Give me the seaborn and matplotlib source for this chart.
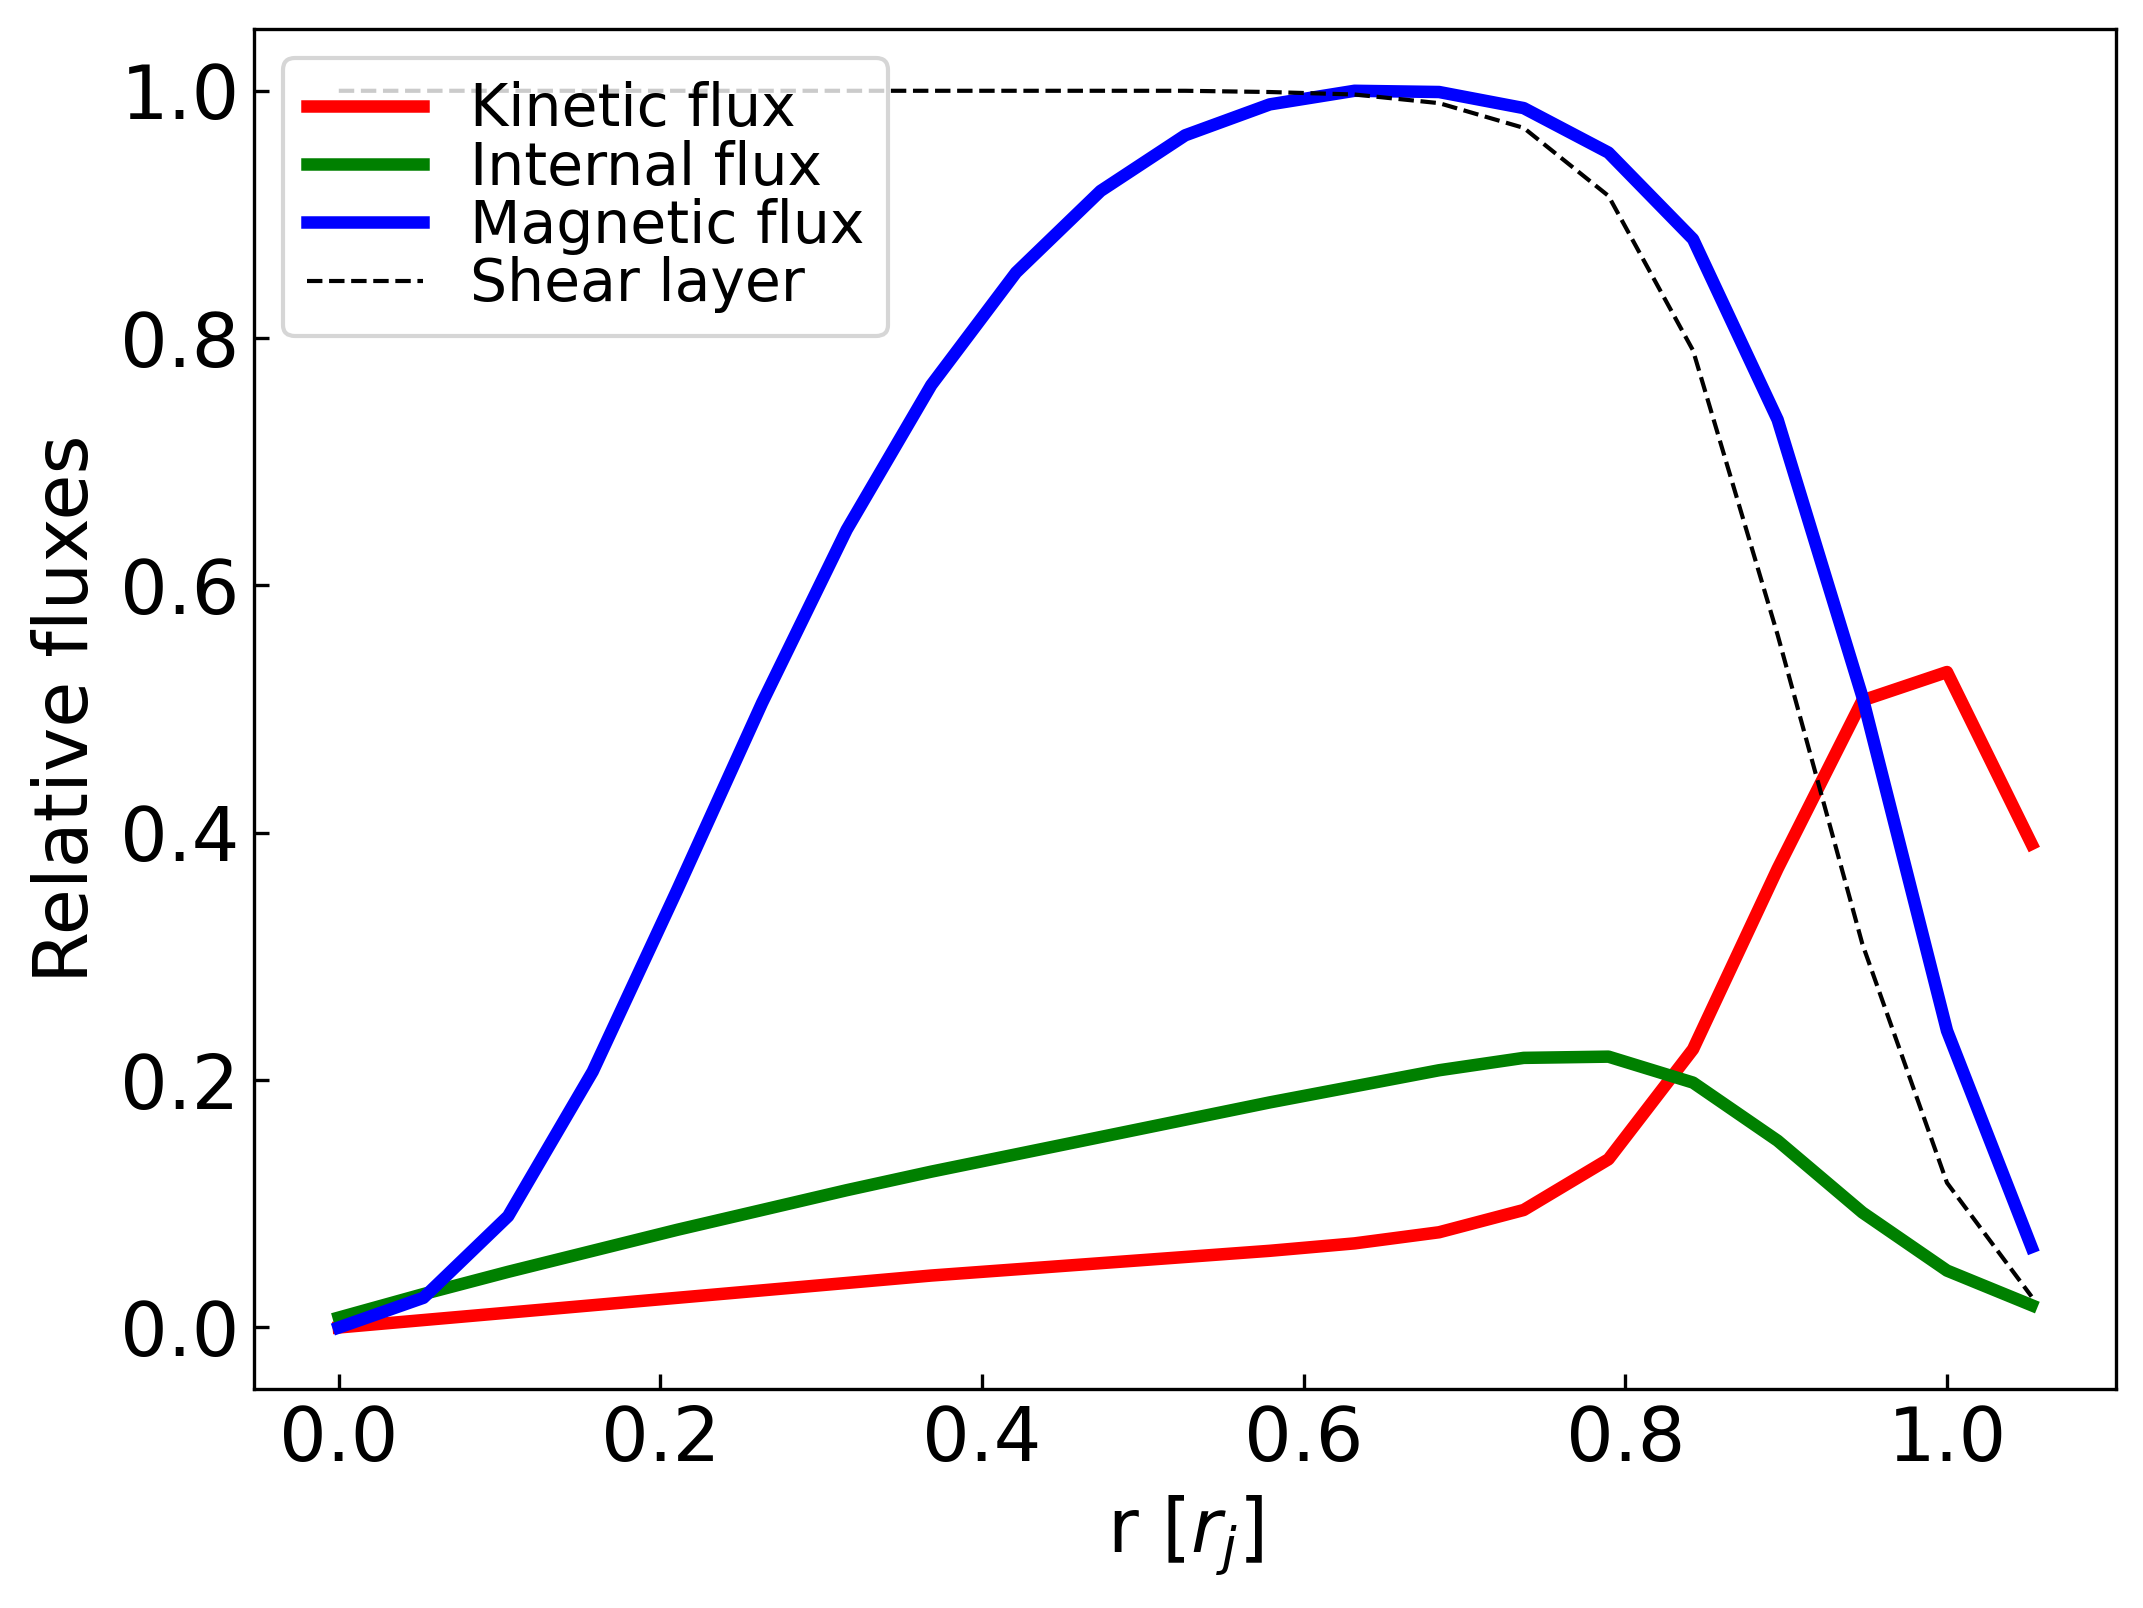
import numpy as np
import pandas as pd
import matplotlib
matplotlib.use("Agg")
import matplotlib.pyplot as plt
import seaborn as sns

r = [0.0, 0.0526, 0.1053, 0.1579, 0.2105, 0.2632, 0.3158, 0.3684, 0.4211, 0.4737,
     0.5263, 0.5789, 0.6316, 0.6842, 0.7368, 0.7895, 0.8421, 0.8947, 0.9474, 1.0, 1.0526]

kinetic = [0.0, 0.006, 0.012, 0.018, 0.024, 0.030, 0.036, 0.042, 0.047, 0.052,
           0.057, 0.062, 0.068, 0.077, 0.095, 0.136, 0.225, 0.371, 0.507, 0.530, 0.391]
internal = [0.008, 0.027, 0.045, 0.062, 0.079, 0.095, 0.111, 0.126, 0.140, 0.154,
            0.168, 0.182, 0.195, 0.208, 0.218, 0.219, 0.198, 0.151, 0.093, 0.046, 0.018]
magnetic = [0.0, 0.024, 0.090, 0.207, 0.354, 0.505, 0.645, 0.762, 0.853, 0.919,
            0.964, 0.989, 1.0, 0.999, 0.986, 0.950, 0.880, 0.734, 0.510, 0.240, 0.065]
shear = [1.0, 1.0, 1.0, 1.0, 1.0, 1.0, 1.0, 1.0, 1.0, 1.0,
         1.0, 0.999, 0.997, 0.990, 0.970, 0.915, 0.790, 0.560, 0.310, 0.117, 0.025]

labels = ["Kinetic flux", "Internal flux", "Magnetic flux", "Shear layer"]

plt.rcParams['xtick.direction'] = 'in'
plt.rcParams['ytick.direction'] = 'in'
plt.rcParams['font.family'] = ['DejaVu Sans']

fig = plt.figure(figsize=(2143/300, 1608/300), dpi=300)
ax = fig.add_axes([0.1186, 0.136, 0.9875 - 0.1186, 0.982 - 0.136])

df = pd.DataFrame({"r": r, "kin": kinetic, "int": internal, "mag": magnetic, "sh": shear})
sns.lineplot(data=df, x="r", y="kin", ax=ax, color="red", lw=3, label=labels[0])
sns.lineplot(data=df, x="r", y="int", ax=ax, color="green", lw=3, label=labels[1])
sns.lineplot(data=df, x="r", y="mag", ax=ax, color="blue", lw=3, label=labels[2])
sns.lineplot(data=df, x="r", y="sh", ax=ax, color="black", lw=1, ls="--", label=labels[3])

ax.set_xlabel(r"r [$r_j$]", fontsize=18)
ax.set_ylabel("Relative fluxes", fontsize=18)
ax.tick_params(labelsize=18)
ax.set_xticks([0.0, 0.2, 0.4, 0.6, 0.8, 1.0])
ax.set_yticks([0.0, 0.2, 0.4, 0.6, 0.8, 1.0])
ax.legend(fontsize=14, loc="upper left", handlelength=2.0, labelspacing=0.02)

fig.savefig("out.png", dpi=300)
